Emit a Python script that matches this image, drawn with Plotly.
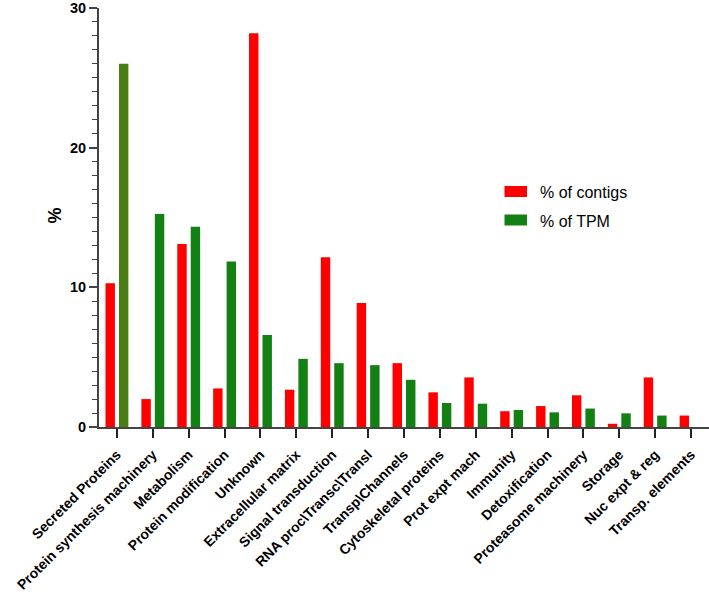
import plotly.graph_objects as go

categories = ["Secreted Proteins", "Protein synthesis machinery", "Metabolism",
              "Protein modification", "Unknown", "Extracellular matrix",
              "Signal transduction", "RNA proc\\Transc\\Transl", "Transp\\Channels",
              "Cytoskeletal proteins", "Prot expt mach", "Immunity", "Detoxification",
              "Proteasome machinery", "Storage", "Nuc expt & reg", "Transp. elements"]
pct_contigs = [10.3, 2.0, 13.1, 2.76, 28.2, 2.67, 12.16, 8.88, 4.57, 2.48, 3.55,
               1.13, 1.5, 2.27, 0.23, 3.55, 0.82]
pct_tpm = [26.0, 15.25, 14.34, 11.85, 6.58, 4.88, 4.57, 4.43, 3.38, 1.72, 1.67,
           1.22, 1.05, 1.32, 0.98, 0.82, 0.0]
series_names = ["% of contigs", "% of TPM"]

RED = "#ff0000"
GREEN = "#128012"
green_colors = ["#4a7d14"] + [GREEN] * (len(categories) - 1)

font_family = "Liberation Sans, Arial, sans-serif"

W, H = 709, 597
L, R, T, B = 99, 0, 8, 170
PW, PH = W - L - R, H - T - B


def px_x(px):
    return (px - L) / PW


def px_y(py):
    return (H - B - py) / PH


fig = go.Figure()
fig.add_trace(go.Bar(x=categories, y=pct_contigs, name=series_names[0],
                     marker=dict(color=RED, line=dict(width=0)), showlegend=False))
fig.add_trace(go.Bar(x=categories, y=pct_tpm, name=series_names[1],
                     marker=dict(color=green_colors, line=dict(width=0)), showlegend=False))

# manual legend (swatches + labels)
shapes = []
annotations = []
for i, (name, col) in enumerate(zip(series_names, [RED, GREEN])):
    cy = 191.5 + i * 28.5
    shapes.append(dict(type="rect", xref="paper", yref="paper",
                       x0=px_x(504.5), x1=px_x(527), y0=px_y(cy + 5.5), y1=px_y(cy - 5.5),
                       fillcolor=col, line=dict(width=0)))
    annotations.append(dict(text=name, xref="paper", yref="paper", x=px_x(538), y=px_y(cy + 1),
                            xanchor="left", yanchor="middle", showarrow=False,
                            font=dict(size=16, family=font_family, color="black")))

annotations.append(dict(text="%", xref="paper", yref="paper", x=px_x(54), y=px_y(215.5),
                        xanchor="center", yanchor="middle", showarrow=False, textangle=-90,
                        font=dict(size=18, family=font_family, weight="bold", color="black")))

fig.update_layout(
    width=W, height=H,
    margin=dict(l=L, r=R, t=T, b=B, autoexpand=False),
    paper_bgcolor="white", plot_bgcolor="white",
    barmode="group", bargap=0.25, bargroupgap=0.3,
    font=dict(family=font_family, color="black"),
    showlegend=False,
    shapes=shapes,
    annotations=annotations,
    xaxis=dict(
        range=[-0.5, 16.5], automargin=False,
        showline=True, linecolor="#444", linewidth=2,
        ticks="outside", ticklen=9, tickwidth=1.5, tickcolor="#222",
        tickangle=-45, ticklabelstandoff=3,
        tickfont=dict(size=14, family=font_family, weight="bold", color="black"),
        showgrid=False, zeroline=False,
    ),
    yaxis=dict(
        range=[0, 30], tickmode="linear", tick0=0, dtick=10, automargin=False,
        ticklabeloverflow="allow",
        showline=True, linecolor="#444", linewidth=2,
        ticks="outside", ticklen=8, tickwidth=1.5, tickcolor="#444",
        minor=dict(tickmode="linear", dtick=1, ticks="outside", ticklen=5, tickwidth=1,
                   tickcolor="#444", showgrid=False),
        tickfont=dict(size=14.5, family=font_family, weight="bold", color="black"),
        showgrid=False, zeroline=False,
    ),
)

fig.write_html("out.html", config={"displayModeBar": False},
               post_script="document.body.style.margin='0';")
